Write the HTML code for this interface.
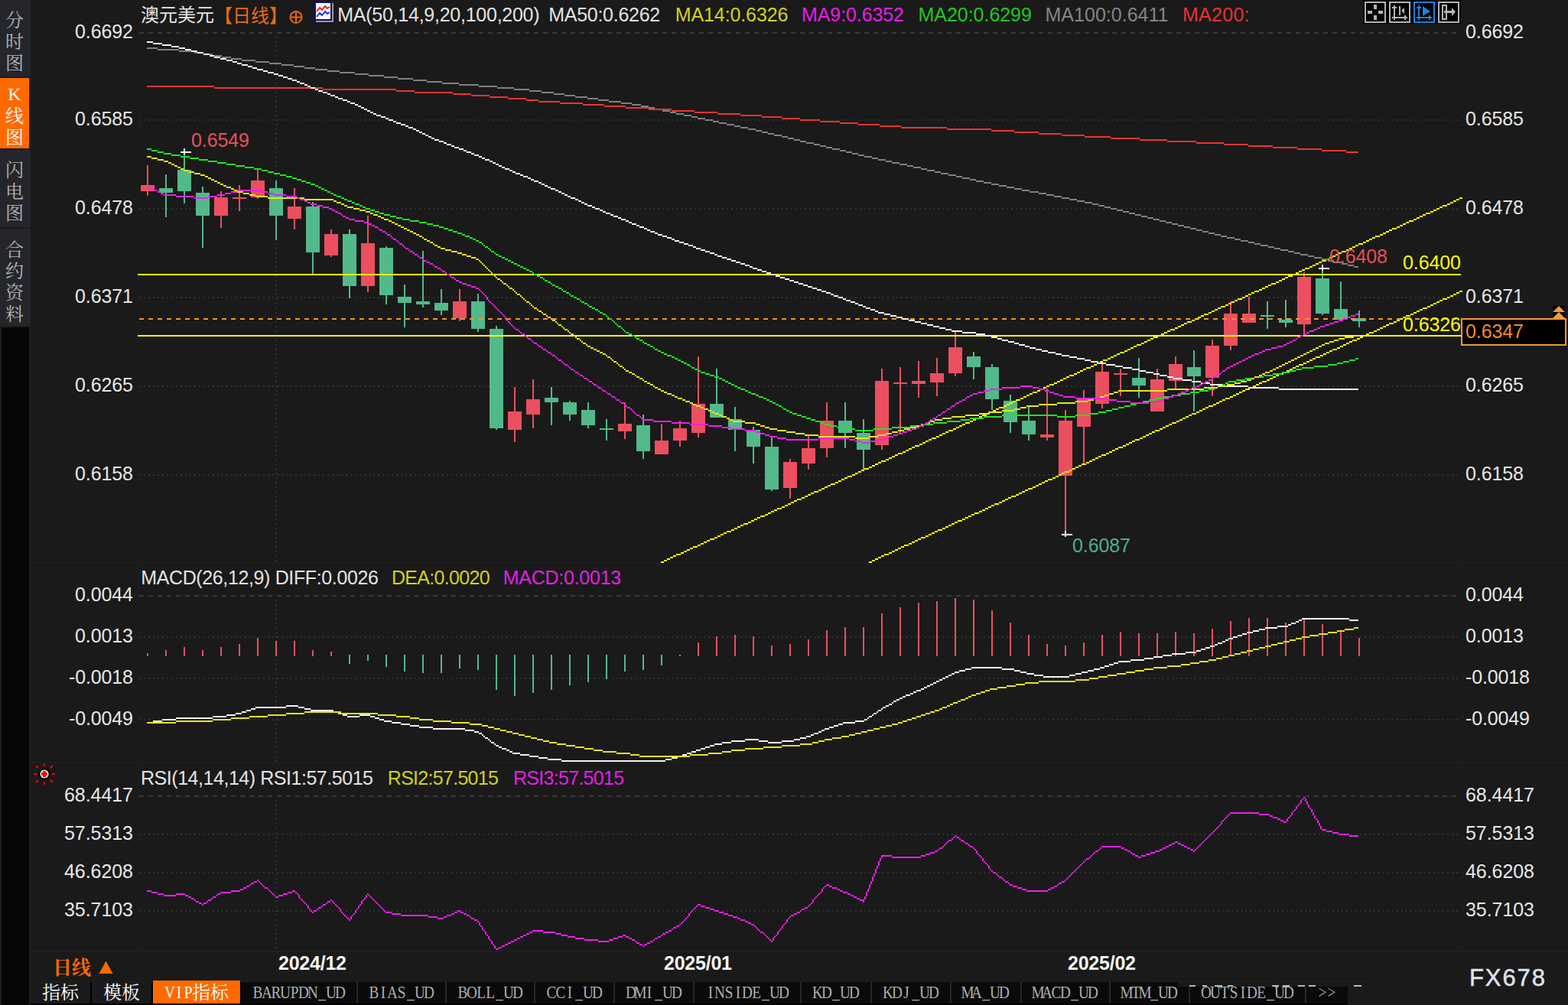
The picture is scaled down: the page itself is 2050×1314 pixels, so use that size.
<!DOCTYPE html>
<html><head><meta charset="utf-8"><title>AUDUSD</title>
<style>html,body{margin:0;padding:0;background:#1a1a1a;}body{width:2050px;height:1314px;overflow:hidden;}
svg{display:block;font-family:"Liberation Sans",sans-serif;}</style></head>
<body><svg width="2050" height="1314" viewBox="0 0 2050 1314">
<rect width="2050" height="1314" fill="#1a1a1a"/>
<rect x="0" y="0" width="40" height="426" fill="#24262c"/>
<rect x="0" y="426" width="40" height="888" fill="#1e1e1e"/>
<rect x="2" y="428" width="36" height="886" fill="#060606"/>
<rect x="0" y="102" width="38" height="92" fill="#ff6a00"/>
<rect x="0" y="100" width="40" height="2" fill="#1b1b1d"/>
<rect x="0" y="194" width="40" height="2" fill="#1b1b1d"/>
<rect x="0" y="297" width="40" height="2" fill="#1b1b1d"/>
<text x="7" y="35.12" fill="#b4b4b4" font-size="24" font-family="'Liberation Serif','Noto Serif CJK SC',serif">分</text>
<text x="7" y="63.12" fill="#b4b4b4" font-size="24" font-family="'Liberation Serif','Noto Serif CJK SC',serif">时</text>
<text x="7" y="91.12" fill="#b4b4b4" font-size="24" font-family="'Liberation Serif','Noto Serif CJK SC',serif">图</text>
<text x="7" y="160.12" fill="#ffffff" font-size="24" font-family="'Liberation Serif','Noto Serif CJK SC',serif">线</text>
<text x="7" y="188.12" fill="#ffffff" font-size="24" font-family="'Liberation Serif','Noto Serif CJK SC',serif">图</text>
<text x="7" y="231.12" fill="#b4b4b4" font-size="24" font-family="'Liberation Serif','Noto Serif CJK SC',serif">闪</text>
<text x="7" y="259.12" fill="#b4b4b4" font-size="24" font-family="'Liberation Serif','Noto Serif CJK SC',serif">电</text>
<text x="7" y="287.12" fill="#b4b4b4" font-size="24" font-family="'Liberation Serif','Noto Serif CJK SC',serif">图</text>
<text x="7" y="335.12" fill="#b4b4b4" font-size="24" font-family="'Liberation Serif','Noto Serif CJK SC',serif">合</text>
<text x="7" y="363.12" fill="#b4b4b4" font-size="24" font-family="'Liberation Serif','Noto Serif CJK SC',serif">约</text>
<text x="7" y="391.12" fill="#b4b4b4" font-size="24" font-family="'Liberation Serif','Noto Serif CJK SC',serif">资</text>
<text x="7" y="419.12" fill="#b4b4b4" font-size="24" font-family="'Liberation Serif','Noto Serif CJK SC',serif">料</text>
<text x="19" y="131" fill="#ffffff" font-size="24" text-anchor="middle" font-family="Liberation Serif">K</text>
<rect x="180" y="36" width="2" height="1208" fill="#1d1d1d"/>
<line x1="1912" y1="36" x2="1912" y2="1244" stroke="#202020" stroke-width="2" stroke-dasharray="2 4"/>
<rect x="40" y="735" width="2010" height="2" fill="#1e1e1e"/>
<rect x="40" y="996" width="2010" height="2" fill="#1e1e1e"/>
<rect x="40" y="1243" width="2010" height="2" fill="#1e1e1e"/>
<rect x="40" y="1283" width="2010" height="1" fill="#1e1e1e"/>
<line x1="182" y1="43" x2="1908" y2="43" stroke="#3a3a3a" stroke-width="2" stroke-dasharray="6 6"/>
<line x1="182" y1="157" x2="1908" y2="157" stroke="#303030" stroke-width="2" stroke-dasharray="2 4"/>
<line x1="182" y1="273" x2="1908" y2="273" stroke="#303030" stroke-width="2" stroke-dasharray="2 4"/>
<line x1="182" y1="389" x2="1908" y2="389" stroke="#303030" stroke-width="2" stroke-dasharray="2 4"/>
<line x1="182" y1="505" x2="1908" y2="505" stroke="#303030" stroke-width="2" stroke-dasharray="2 4"/>
<line x1="182" y1="621" x2="1908" y2="621" stroke="#303030" stroke-width="2" stroke-dasharray="2 4"/>
<line x1="182" y1="779" x2="1908" y2="779" stroke="#3a3a3a" stroke-width="2" stroke-dasharray="6 6"/>
<line x1="182" y1="833" x2="1908" y2="833" stroke="#303030" stroke-width="2" stroke-dasharray="2 4"/>
<line x1="182" y1="887" x2="1908" y2="887" stroke="#303030" stroke-width="2" stroke-dasharray="2 4"/>
<line x1="182" y1="941" x2="1908" y2="941" stroke="#303030" stroke-width="2" stroke-dasharray="2 4"/>
<line x1="182" y1="1041" x2="1908" y2="1041" stroke="#3a3a3a" stroke-width="2" stroke-dasharray="6 6"/>
<line x1="182" y1="1091" x2="1908" y2="1091" stroke="#303030" stroke-width="2" stroke-dasharray="2 4"/>
<line x1="182" y1="1141" x2="1908" y2="1141" stroke="#303030" stroke-width="2" stroke-dasharray="2 4"/>
<line x1="182" y1="1191" x2="1908" y2="1191" stroke="#303030" stroke-width="2" stroke-dasharray="2 4"/>
<line x1="361" y1="48" x2="361" y2="734" stroke="#303030" stroke-width="2" stroke-dasharray="2 4"/>
<line x1="361" y1="784" x2="361" y2="996" stroke="#303030" stroke-width="2" stroke-dasharray="2 4"/>
<line x1="361" y1="1046" x2="361" y2="1242" stroke="#303030" stroke-width="2" stroke-dasharray="2 4"/>
<g shape-rendering="crispEdges">
<rect x="192" y="216" width="2" height="40" fill="#ec4f5f"/>
<rect x="184" y="242" width="18" height="8" fill="#ec4f5f"/>
<rect x="216" y="228" width="2" height="56" fill="#52b98a"/>
<rect x="208" y="246" width="18" height="6" fill="#52b98a"/>
<rect x="240" y="200" width="2" height="66" fill="#52b98a"/>
<rect x="232" y="222" width="18" height="28" fill="#52b98a"/>
<rect x="264" y="244" width="2" height="80" fill="#52b98a"/>
<rect x="256" y="252" width="18" height="30" fill="#52b98a"/>
<rect x="288" y="250" width="2" height="48" fill="#ec4f5f"/>
<rect x="280" y="258" width="18" height="24" fill="#ec4f5f"/>
<rect x="312" y="242" width="2" height="34" fill="#ec4f5f"/>
<rect x="304" y="258" width="18" height="2" fill="#ec4f5f"/>
<rect x="336" y="222" width="2" height="38" fill="#ec4f5f"/>
<rect x="328" y="236" width="18" height="22" fill="#ec4f5f"/>
<rect x="360" y="236" width="2" height="78" fill="#52b98a"/>
<rect x="352" y="246" width="18" height="36" fill="#52b98a"/>
<rect x="384" y="246" width="2" height="54" fill="#ec4f5f"/>
<rect x="376" y="270" width="18" height="16" fill="#ec4f5f"/>
<rect x="408" y="264" width="2" height="94" fill="#52b98a"/>
<rect x="400" y="270" width="18" height="60" fill="#52b98a"/>
<rect x="432" y="300" width="2" height="36" fill="#ec4f5f"/>
<rect x="424" y="306" width="18" height="28" fill="#ec4f5f"/>
<rect x="456" y="300" width="2" height="90" fill="#52b98a"/>
<rect x="448" y="306" width="18" height="68" fill="#52b98a"/>
<rect x="480" y="282" width="2" height="100" fill="#ec4f5f"/>
<rect x="472" y="318" width="18" height="56" fill="#ec4f5f"/>
<rect x="504" y="322" width="2" height="76" fill="#52b98a"/>
<rect x="496" y="324" width="18" height="62" fill="#52b98a"/>
<rect x="528" y="372" width="2" height="56" fill="#52b98a"/>
<rect x="520" y="388" width="18" height="8" fill="#52b98a"/>
<rect x="552" y="328" width="2" height="74" fill="#52b98a"/>
<rect x="544" y="394" width="18" height="4" fill="#52b98a"/>
<rect x="576" y="378" width="2" height="34" fill="#52b98a"/>
<rect x="568" y="396" width="18" height="10" fill="#52b98a"/>
<rect x="600" y="378" width="2" height="42" fill="#ec4f5f"/>
<rect x="592" y="394" width="18" height="22" fill="#ec4f5f"/>
<rect x="624" y="384" width="2" height="50" fill="#52b98a"/>
<rect x="616" y="394" width="18" height="36" fill="#52b98a"/>
<rect x="648" y="426" width="2" height="136" fill="#52b98a"/>
<rect x="640" y="430" width="18" height="130" fill="#52b98a"/>
<rect x="672" y="506" width="2" height="72" fill="#ec4f5f"/>
<rect x="664" y="538" width="18" height="24" fill="#ec4f5f"/>
<rect x="696" y="496" width="2" height="64" fill="#ec4f5f"/>
<rect x="688" y="522" width="18" height="20" fill="#ec4f5f"/>
<rect x="720" y="506" width="2" height="50" fill="#52b98a"/>
<rect x="712" y="520" width="18" height="6" fill="#52b98a"/>
<rect x="744" y="524" width="2" height="26" fill="#52b98a"/>
<rect x="736" y="526" width="18" height="16" fill="#52b98a"/>
<rect x="768" y="526" width="2" height="34" fill="#52b98a"/>
<rect x="760" y="536" width="18" height="20" fill="#52b98a"/>
<rect x="792" y="548" width="2" height="28" fill="#52b98a"/>
<rect x="784" y="560" width="18" height="2" fill="#52b98a"/>
<rect x="816" y="526" width="2" height="48" fill="#ec4f5f"/>
<rect x="808" y="554" width="18" height="10" fill="#ec4f5f"/>
<rect x="840" y="542" width="2" height="58" fill="#52b98a"/>
<rect x="832" y="556" width="18" height="34" fill="#52b98a"/>
<rect x="864" y="554" width="2" height="40" fill="#ec4f5f"/>
<rect x="856" y="576" width="18" height="18" fill="#ec4f5f"/>
<rect x="888" y="550" width="2" height="34" fill="#ec4f5f"/>
<rect x="880" y="560" width="18" height="16" fill="#ec4f5f"/>
<rect x="912" y="466" width="2" height="106" fill="#ec4f5f"/>
<rect x="904" y="528" width="18" height="38" fill="#ec4f5f"/>
<rect x="936" y="482" width="2" height="64" fill="#52b98a"/>
<rect x="928" y="528" width="18" height="18" fill="#52b98a"/>
<rect x="960" y="532" width="2" height="58" fill="#52b98a"/>
<rect x="952" y="548" width="18" height="14" fill="#52b98a"/>
<rect x="984" y="558" width="2" height="48" fill="#52b98a"/>
<rect x="976" y="562" width="18" height="22" fill="#52b98a"/>
<rect x="1008" y="572" width="2" height="70" fill="#52b98a"/>
<rect x="1000" y="584" width="18" height="56" fill="#52b98a"/>
<rect x="1032" y="600" width="2" height="52" fill="#ec4f5f"/>
<rect x="1024" y="604" width="18" height="34" fill="#ec4f5f"/>
<rect x="1056" y="570" width="2" height="44" fill="#ec4f5f"/>
<rect x="1048" y="586" width="18" height="20" fill="#ec4f5f"/>
<rect x="1080" y="526" width="2" height="72" fill="#ec4f5f"/>
<rect x="1072" y="550" width="18" height="36" fill="#ec4f5f"/>
<rect x="1104" y="526" width="2" height="60" fill="#52b98a"/>
<rect x="1096" y="550" width="18" height="16" fill="#52b98a"/>
<rect x="1128" y="548" width="2" height="66" fill="#52b98a"/>
<rect x="1120" y="566" width="18" height="22" fill="#52b98a"/>
<rect x="1152" y="482" width="2" height="106" fill="#ec4f5f"/>
<rect x="1144" y="498" width="18" height="84" fill="#ec4f5f"/>
<rect x="1176" y="480" width="2" height="86" fill="#ec4f5f"/>
<rect x="1168" y="500" width="18" height="2" fill="#ec4f5f"/>
<rect x="1200" y="472" width="2" height="48" fill="#ec4f5f"/>
<rect x="1192" y="498" width="18" height="4" fill="#ec4f5f"/>
<rect x="1224" y="468" width="2" height="50" fill="#ec4f5f"/>
<rect x="1216" y="488" width="18" height="12" fill="#ec4f5f"/>
<rect x="1248" y="434" width="2" height="58" fill="#ec4f5f"/>
<rect x="1240" y="454" width="18" height="34" fill="#ec4f5f"/>
<rect x="1272" y="460" width="2" height="36" fill="#52b98a"/>
<rect x="1264" y="466" width="18" height="14" fill="#52b98a"/>
<rect x="1296" y="476" width="2" height="60" fill="#52b98a"/>
<rect x="1288" y="480" width="18" height="42" fill="#52b98a"/>
<rect x="1320" y="516" width="2" height="50" fill="#52b98a"/>
<rect x="1312" y="524" width="18" height="28" fill="#52b98a"/>
<rect x="1344" y="532" width="2" height="44" fill="#52b98a"/>
<rect x="1336" y="550" width="18" height="18" fill="#52b98a"/>
<rect x="1368" y="508" width="2" height="68" fill="#ec4f5f"/>
<rect x="1360" y="568" width="18" height="4" fill="#ec4f5f"/>
<rect x="1392" y="536" width="2" height="164" fill="#ec4f5f"/>
<rect x="1384" y="550" width="18" height="72" fill="#ec4f5f"/>
<rect x="1416" y="510" width="2" height="96" fill="#ec4f5f"/>
<rect x="1408" y="522" width="18" height="36" fill="#ec4f5f"/>
<rect x="1440" y="472" width="2" height="62" fill="#ec4f5f"/>
<rect x="1432" y="486" width="18" height="42" fill="#ec4f5f"/>
<rect x="1464" y="482" width="2" height="36" fill="#ec4f5f"/>
<rect x="1456" y="488" width="18" height="2" fill="#ec4f5f"/>
<rect x="1488" y="468" width="2" height="52" fill="#52b98a"/>
<rect x="1480" y="494" width="18" height="10" fill="#52b98a"/>
<rect x="1512" y="482" width="2" height="56" fill="#ec4f5f"/>
<rect x="1504" y="496" width="18" height="42" fill="#ec4f5f"/>
<rect x="1536" y="466" width="2" height="42" fill="#ec4f5f"/>
<rect x="1528" y="476" width="18" height="22" fill="#ec4f5f"/>
<rect x="1560" y="458" width="2" height="80" fill="#52b98a"/>
<rect x="1552" y="480" width="18" height="12" fill="#52b98a"/>
<rect x="1584" y="444" width="2" height="74" fill="#ec4f5f"/>
<rect x="1576" y="452" width="18" height="42" fill="#ec4f5f"/>
<rect x="1608" y="394" width="2" height="64" fill="#ec4f5f"/>
<rect x="1600" y="410" width="18" height="42" fill="#ec4f5f"/>
<rect x="1632" y="388" width="2" height="34" fill="#ec4f5f"/>
<rect x="1624" y="410" width="18" height="12" fill="#ec4f5f"/>
<rect x="1656" y="394" width="2" height="36" fill="#52b98a"/>
<rect x="1648" y="412" width="18" height="2" fill="#52b98a"/>
<rect x="1680" y="392" width="2" height="36" fill="#52b98a"/>
<rect x="1672" y="418" width="18" height="4" fill="#52b98a"/>
<rect x="1704" y="356" width="2" height="82" fill="#ec4f5f"/>
<rect x="1696" y="362" width="18" height="62" fill="#ec4f5f"/>
<rect x="1728" y="350" width="2" height="62" fill="#52b98a"/>
<rect x="1720" y="364" width="18" height="46" fill="#52b98a"/>
<rect x="1752" y="368" width="2" height="52" fill="#52b98a"/>
<rect x="1744" y="404" width="18" height="14" fill="#52b98a"/>
<rect x="1776" y="406" width="2" height="22" fill="#52b98a"/>
<rect x="1768" y="416" width="18" height="4" fill="#52b98a"/>
<line x1="182" y1="417" x2="1910" y2="417" stroke="#f09632" stroke-width="2" stroke-dasharray="6 6"/>
<rect x="180" y="358" width="1730" height="2" fill="#ffff00"/>
<rect x="180" y="438" width="1730" height="2" fill="#ffff00"/>
<path d="M1908 259h4M1904 261h4M1900 263h4M1896 265h4M1892 267h4M1886 269h6M1882 271h4M1878 273h4M1874 275h4M1870 277h4M1864 279h6M1860 281h4M1856 283h4M1852 285h4M1848 287h4M1842 289h6M1838 291h4M1834 293h4M1830 295h4M1826 297h4M1820 299h6M1816 301h4M1812 303h4M1808 305h4M1804 307h4M1798 309h6M1794 311h4M1790 313h4M1786 315h4M1782 317h4M1776 319h6M1772 321h4M1768 323h4M1764 325h4M1760 327h4M1754 329h6M1750 331h4M1746 333h4M1742 335h4M1738 337h4M1734 339h4M1728 341h6M1724 343h4M1720 345h4M1716 347h4M1712 349h4M1706 351h6M1702 353h4M1698 355h4M1694 357h4M1690 359h4M1684 361h6M1680 363h4M1676 365h4M1672 367h4M1668 369h4M1662 371h6M1658 373h4M1654 375h4M1650 377h4M1646 379h4M1640 381h6M1636 383h4M1632 385h4M1628 387h4M1624 389h4M1618 391h6M1614 393h4M1610 395h4M1606 397h4M1602 399h4M1596 401h6M1592 403h4M1588 405h4M1584 407h4M1580 409h4M1574 411h6M1570 413h4M1566 415h4M1562 417h4M1558 419h4M1552 421h6M1548 423h4M1544 425h4M1540 427h4M1536 429h4M1530 431h6M1526 433h4M1522 435h4M1518 437h4M1514 439h4M1508 441h6M1504 443h4M1500 445h4M1496 447h4M1492 449h4M1486 451h6M1482 453h4M1478 455h4M1474 457h4M1470 459h4M1464 461h6M1460 463h4M1456 465h4M1452 467h4M1448 469h4M1442 471h6M1438 473h4M1434 475h4M1430 477h4M1426 479h4M1420 481h6M1416 483h4M1412 485h4M1408 487h4M1404 489h4M1398 491h6M1394 493h4M1390 495h4M1386 497h4M1382 499h4M1378 501h4M1372 503h6M1368 505h4M1364 507h4M1360 509h4M1356 511h4M1350 513h6M1346 515h4M1342 517h4M1338 519h4M1334 521h4M1328 523h6M1324 525h4M1320 527h4M1316 529h4M1312 531h4M1306 533h6M1302 535h4M1298 537h4M1294 539h4M1290 541h4M1284 543h6M1280 545h4M1276 547h4M1272 549h4M1268 551h4M1262 553h6M1258 555h4M1254 557h4M1250 559h4M1246 561h4M1240 563h6M1236 565h4M1232 567h4M1228 569h4M1224 571h4M1218 573h6M1214 575h4M1210 577h4M1206 579h4M1202 581h4M1196 583h6M1192 585h4M1188 587h4M1184 589h4M1180 591h4M1174 593h6M1170 595h4M1166 597h4M1162 599h4M1158 601h4M1152 603h6M1148 605h4M1144 607h4M1140 609h4M1136 611h4M1130 613h6M1126 615h4M1122 617h4M1118 619h4M1114 621h4M1108 623h6M1104 625h4M1100 627h4M1096 629h4M1092 631h4M1086 633h6M1082 635h4M1078 637h4M1074 639h4M1070 641h4M1064 643h6M1060 645h4M1056 647h4M1052 649h4M1048 651h4M1042 653h6M1038 655h4M1034 657h4M1030 659h4M1026 661h4M1022 663h4M1016 665h6M1012 667h4M1008 669h4M1004 671h4M1000 673h4M994 675h6M990 677h4M986 679h4M982 681h4M978 683h4M972 685h6M968 687h4M964 689h4M960 691h4M956 693h4M950 695h6M946 697h4M942 699h4M938 701h4M934 703h4M928 705h6M924 707h4M920 709h4M916 711h4M912 713h4M906 715h6M902 717h4M898 719h4M894 721h4M890 723h4M884 725h6M880 727h4M876 729h4M872 731h4M868 733h4M864 735h4" fill="none" stroke="#ffff00" stroke-width="2"/>
<path d="M1908 381h4M1904 383h4M1900 385h4M1896 387h4M1892 389h4M1886 391h6M1882 393h4M1878 395h4M1874 397h4M1870 399h4M1866 401h4M1860 403h6M1856 405h4M1852 407h4M1848 409h4M1844 411h4M1838 413h6M1834 415h4M1830 417h4M1826 419h4M1822 421h4M1816 423h6M1812 425h4M1808 427h4M1804 429h4M1800 431h4M1796 433h4M1790 435h6M1786 437h4M1782 439h4M1778 441h4M1774 443h4M1768 445h6M1764 447h4M1760 449h4M1756 451h4M1752 453h4M1748 455h4M1742 457h6M1738 459h4M1734 461h4M1730 463h4M1726 465h4M1720 467h6M1716 469h4M1712 471h4M1708 473h4M1704 475h4M1698 477h6M1694 479h4M1690 481h4M1686 483h4M1682 485h4M1678 487h4M1672 489h6M1668 491h4M1664 493h4M1660 495h4M1656 497h4M1650 499h6M1646 501h4M1642 503h4M1638 505h4M1634 507h4M1628 509h6M1624 511h4M1620 513h4M1616 515h4M1612 517h4M1608 519h4M1602 521h6M1598 523h4M1594 525h4M1590 527h4M1586 529h4M1580 531h6M1576 533h4M1572 535h4M1568 537h4M1564 539h4M1558 541h6M1554 543h4M1550 545h4M1546 547h4M1542 549h4M1538 551h4M1532 553h6M1528 555h4M1524 557h4M1520 559h4M1516 561h4M1510 563h6M1506 565h4M1502 567h4M1498 569h4M1494 571h4M1490 573h4M1484 575h6M1480 577h4M1476 579h4M1472 581h4M1468 583h4M1462 585h6M1458 587h4M1454 589h4M1450 591h4M1446 593h4M1440 595h6M1436 597h4M1432 599h4M1428 601h4M1424 603h4M1420 605h4M1414 607h6M1410 609h4M1406 611h4M1402 613h4M1398 615h4M1392 617h6M1388 619h4M1384 621h4M1380 623h4M1376 625h4M1370 627h6M1366 629h4M1362 631h4M1358 633h4M1354 635h4M1350 637h4M1344 639h6M1340 641h4M1336 643h4M1332 645h4M1328 647h4M1322 649h6M1318 651h4M1314 653h4M1310 655h4M1306 657h4M1300 659h6M1296 661h4M1292 663h4M1288 665h4M1284 667h4M1280 669h4M1274 671h6M1270 673h4M1266 675h4M1262 677h4M1258 679h4M1252 681h6M1248 683h4M1244 685h4M1240 687h4M1236 689h4M1232 691h4M1226 693h6M1222 695h4M1218 697h4M1214 699h4M1210 701h4M1204 703h6M1200 705h4M1196 707h4M1192 709h4M1188 711h4M1182 713h6M1178 715h4M1174 717h4M1170 719h4M1166 721h4M1162 723h4M1156 725h6M1152 727h4M1148 729h4M1144 731h4M1140 733h4M1136 735h4" fill="none" stroke="#ffff00" stroke-width="2"/>
<path d="M192 63h14M206 65h28M234 67h20M254 69h12M266 71h12M278 73h12M290 75h12M302 77h14M316 79h18M334 81h18M352 83h16M368 85h16M384 87h14M398 89h14M412 91h16M428 93h16M444 95h20M464 97h18M482 99h20M502 101h18M520 103h20M540 105h18M558 107h20M578 109h22M600 111h26M626 113h24M650 115h22M672 117h20M692 119h16M708 121h16M724 123h14M738 125h14M752 127h16M768 129h14M782 131h14M796 133h16M812 135h14M826 137h12M838 139h10M848 141h8M856 143h10M866 145h10M876 147h8M884 149h10M894 151h10M904 153h8M912 155h10M922 157h10M932 159h8M940 161h10M950 163h10M960 165h8M968 167h10M978 169h10M988 171h8M996 173h8M1004 175h8M1012 177h10M1022 179h8M1030 181h8M1038 183h8M1046 185h8M1054 187h10M1064 189h8M1072 191h8M1080 193h8M1088 195h10M1098 197h8M1106 199h8M1114 201h8M1122 203h8M1130 205h10M1140 207h8M1148 209h10M1158 211h8M1166 213h10M1176 215h10M1186 217h8M1194 219h10M1204 221h8M1212 223h10M1222 225h8M1230 227h10M1240 229h10M1250 231h8M1258 233h10M1268 235h8M1276 237h10M1286 239h10M1296 241h10M1306 243h10M1316 245h10M1326 247h10M1336 249h10M1346 251h12M1358 253h10M1368 255h10M1378 257h10M1388 259h10M1398 261h10M1408 263h10M1418 265h10M1428 267h8M1436 269h8M1444 271h8M1452 273h8M1460 275h8M1468 277h8M1476 279h8M1484 281h8M1492 283h8M1500 285h8M1508 287h8M1516 289h8M1524 291h8M1532 293h8M1540 295h8M1548 297h8M1556 299h8M1564 301h8M1572 303h8M1580 305h8M1588 307h8M1596 309h8M1604 311h10M1614 313h8M1622 315h10M1632 317h8M1640 319h8M1648 321h10M1658 323h8M1666 325h8M1674 327h10M1684 329h8M1692 331h8M1700 333h10M1710 335h8M1718 337h10M1728 339h8M1736 341h8M1744 343h10M1754 345h8M1762 347h8M1770 349h6" fill="none" stroke="#808080" stroke-width="2"/>
<path d="M192 113h88M280 115h142M422 117h96M518 119h24M542 121h50M592 123h24M616 125h24M640 127h24M664 129h24M688 131h16M704 133h28M732 135h30M762 137h28M790 139h28M818 141h30M848 143h30M878 145h30M908 147h30M938 149h30M968 151h28M996 153h26M1022 155h24M1046 157h26M1072 159h26M1098 161h24M1122 163h28M1150 165h28M1178 167h60M1238 169h58M1296 171h30M1326 173h32M1358 175h30M1388 177h30M1418 179h34M1452 181h38M1490 183h36M1526 185h38M1564 187h36M1600 189h32M1632 191h32M1664 193h32M1696 195h32M1728 197h32M1760 199h16" fill="none" stroke="#f03232" stroke-width="2"/>
<path d="M192 55h8M200 57h12M212 59h12M224 61h10M234 63h8M242 65h8M250 67h8M258 69h8M266 71h8M274 73h6M280 75h8M288 77h8M296 79h8M304 81h6M310 83h6M316 85h8M324 87h6M330 89h6M336 91h8M344 93h6M350 95h8M358 97h6M364 99h6M370 101h6M376 103h6M382 105h6M388 107h4M392 109h6M398 111h4M402 113h4M406 115h6M412 117h4M416 119h6M422 121h6M428 123h4M432 125h6M438 127h4M442 129h6M448 131h6M454 133h4M458 135h6M464 137h4M468 139h4M472 141h4M476 143h4M480 145h4M484 147h4M488 149h4M492 151h6M498 153h6M504 155h4M508 157h6M514 159h4M518 161h6M524 163h6M530 165h4M534 167h6M540 169h4M544 171h4M548 173h4M552 175h4M556 177h4M560 179h4M564 181h4M568 183h6M574 185h6M580 187h4M584 189h6M590 191h4M594 193h6M600 195h6M606 197h4M610 199h6M616 201h4M620 203h6M626 205h4M630 207h4M634 209h6M640 211h4M644 213h4M648 215h4M652 217h4M656 219h4M660 221h6M666 223h4M670 225h4M674 227h6M680 229h4M684 231h6M690 233h4M694 235h4M698 237h6M704 239h4M708 241h4M712 243h4M716 245h4M720 247h6M726 249h4M730 251h4M734 253h4M738 255h4M742 257h4M746 259h6M752 261h4M756 263h4M760 265h4M764 267h4M768 269h6M774 271h4M778 273h6M784 275h4M788 277h4M792 279h6M798 281h4M802 283h6M808 285h4M812 287h6M818 289h4M822 291h4M826 293h6M832 295h4M836 297h6M842 299h4M846 301h4M850 303h6M856 305h4M860 307h6M866 309h6M872 311h6M878 313h4M882 315h6M888 317h6M894 319h6M900 321h6M906 323h4M910 325h6M916 327h6M922 329h6M928 331h6M934 333h4M938 335h6M944 337h6M950 339h6M956 341h6M962 343h6M968 345h6M974 347h6M980 349h4M984 351h6M990 353h6M996 355h6M1002 357h6M1008 359h6M1014 361h6M1020 363h6M1026 365h6M1032 367h6M1038 369h6M1044 371h6M1050 373h6M1056 375h6M1062 377h6M1068 379h6M1074 381h6M1080 383h6M1086 385h4M1090 387h6M1096 389h6M1102 391h4M1106 393h6M1112 395h6M1118 397h4M1122 399h6M1128 401h4M1132 403h6M1138 405h6M1144 407h4M1148 409h8M1156 411h8M1164 413h8M1172 415h8M1180 417h8M1188 419h8M1196 421h8M1204 423h8M1212 425h8M1220 427h8M1228 429h8M1236 431h8M1244 433h14M1258 435h18M1276 437h12M1288 439h8M1296 441h8M1304 443h6M1310 445h8M1318 447h8M1326 449h6M1332 451h8M1340 453h6M1346 455h8M1354 457h8M1362 459h8M1370 461h10M1380 463h8M1388 465h10M1398 467h10M1408 469h10M1418 471h8M1426 473h10M1436 475h10M1446 477h12M1458 479h10M1468 481h12M1480 483h10M1490 485h8M1498 487h10M1508 489h8M1516 491h10M1526 493h8M1534 495h12M1546 497h12M1558 499h12M1570 501h12M1582 503h20M1602 505h30M1632 507h40M1672 509h104" fill="none" stroke="#f4f4f4" stroke-width="2"/>
<path d="M192 195h6M198 197h8M206 199h8M214 201h10M224 203h12M236 205h12M248 207h12M260 209h12M272 211h12M284 213h12M296 215h12M308 217h12M320 219h12M332 221h10M342 223h8M350 225h8M358 227h8M366 229h8M374 231h8M382 233h6M388 235h6M394 237h6M400 239h6M406 241h6M412 243h4M416 245h4M420 247h4M424 249h4M428 251h4M432 253h4M436 255h4M440 257h6M446 259h4M450 261h4M454 263h6M460 265h4M464 267h6M470 269h4M474 271h4M478 273h6M484 275h6M490 277h6M496 279h6M502 281h8M510 283h8M518 285h8M526 287h10M536 289h12M548 291h10M558 293h8M566 295h8M574 297h6M580 299h6M586 301h6M592 303h6M598 305h6M604 307h4M608 309h6M614 311h4M618 313h4M622 315h4M626 317h4M630 319h2M632 321h2M634 323h4M638 325h2M640 327h2M642 329h4M646 331h2M648 333h4M652 335h4M656 337h4M660 339h4M664 341h4M668 343h4M672 345h4M676 347h4M680 349h4M684 351h4M688 353h4M692 355h4M696 357h2M698 359h4M702 361h4M706 363h4M710 365h2M712 367h4M716 369h4M720 371h2M722 373h4M726 375h4M730 377h4M734 379h2M736 381h4M740 383h4M744 385h2M746 387h4M750 389h4M754 391h4M758 393h2M760 395h4M764 397h4M768 399h2M770 401h4M774 403h4M778 405h4M782 407h2M784 409h4M788 411h4M792 413h2M794 415h2M796 417h4M800 419h2M802 421h2M804 423h2M806 425h2M808 427h4M812 429h2M814 431h2M816 433h2M818 435h4M822 437h4M826 439h4M830 441h2M832 443h4M836 445h4M840 447h2M842 449h4M846 451h4M850 453h4M854 455h2M856 457h4M860 459h4M864 461h4M868 463h4M872 465h6M878 467h4M882 469h4M1772 469h4M886 471h4M1764 471h8M890 473h4M1756 473h8M894 475h4M1748 475h8M898 477h4M1736 477h12M902 479h2M1718 479h18M904 481h4M1702 481h16M908 483h4M1694 483h8M912 485h4M1686 485h8M916 487h6M1676 487h10M922 489h6M1664 489h12M928 491h6M1652 491h12M934 493h6M1640 493h12M940 495h4M1628 495h12M944 497h4M1616 497h12M948 499h4M1606 499h10M952 501h4M1602 501h4M956 503h4M1598 503h4M960 505h4M1592 505h6M964 507h4M1588 507h4M968 509h6M1580 509h8M974 511h4M1568 511h12M978 513h4M1556 513h12M982 515h6M1544 515h12M988 517h4M1532 517h12M992 519h6M1520 519h12M998 521h4M1510 521h10M1002 523h4M1502 523h8M1006 525h4M1494 525h8M1010 527h4M1486 527h8M1014 529h4M1478 529h8M1018 531h4M1470 531h8M1022 533h2M1462 533h8M1024 535h4M1454 535h8M1028 537h4M1446 537h8M1032 539h4M1436 539h10M1036 541h6M1424 541h12M1042 543h6M1310 543h72M1406 543h18M1048 545h6M1286 545h24M1382 545h24M1054 547h6M1268 547h18M1060 549h6M1256 549h12M1066 551h6M1238 551h18M1072 553h6M1220 553h18M1078 555h8M1208 555h12M1086 557h8M1190 557h18M1094 559h8M1166 559h24M1102 561h16M1142 561h24M1118 563h24" fill="none" stroke="#1ee61e" stroke-width="2"/>
<path d="M192 205h6M198 207h8M206 209h8M214 211h6M220 213h4M224 215h4M228 217h4M232 219h4M236 221h4M240 223h6M246 225h8M254 227h8M262 229h6M268 231h4M272 233h4M276 235h4M280 237h4M284 239h4M288 241h4M292 243h4M296 245h6M302 247h4M306 249h4M310 251h8M318 253h8M326 255h8M334 257h16M350 259h48M398 261h38M436 263h4M440 265h6M446 267h4M450 269h4M454 271h8M462 273h8M470 275h8M478 277h6M484 279h4M488 281h6M494 283h4M498 285h4M502 287h6M508 289h4M512 291h4M516 293h4M520 295h4M524 297h4M528 299h4M532 301h4M536 303h4M540 305h4M544 307h4M548 309h4M552 311h2M554 313h4M558 315h4M562 317h4M566 319h2M568 321h4M572 323h4M576 325h6M582 327h8M590 329h8M598 331h6M604 333h6M610 335h6M616 337h6M622 339h4M626 341h2M628 343h2M630 345h2M632 347h2M634 349h2M636 351h2M638 353h2M640 355h2M642 357h2M644 359h2M646 361h2M648 363h2M650 365h4M654 367h2M656 369h2M658 371h4M662 373h2M664 375h2M666 377h4M670 379h2M672 381h2M674 383h2M676 385h4M680 387h2M682 389h2M684 391h2M686 393h2M688 395h4M692 397h2M694 399h2M696 401h2M698 403h4M702 405h2M704 407h4M708 409h2M710 411h4M714 413h2M716 415h4M720 417h2M722 419h4M726 421h2M728 423h2M730 425h4M734 427h2M736 429h2M738 431h4M742 433h2M744 435h2M746 437h4M750 439h2M1770 439h6M752 441h2M1758 441h12M754 443h4M1750 443h8M758 445h2M1744 445h6M760 447h2M1738 447h6M762 449h4M1732 449h6M766 451h2M1728 451h4M768 453h4M1724 453h4M772 455h4M1720 455h4M776 457h4M1716 457h4M780 459h4M1712 459h4M784 461h4M1708 461h4M788 463h4M1704 463h4M792 465h2M1700 465h4M794 467h4M1696 467h4M798 469h2M1692 469h4M800 471h2M1688 471h4M802 473h4M1684 473h4M806 475h2M1680 475h4M808 477h2M1676 477h4M810 479h4M1672 479h4M814 481h2M1668 481h4M816 483h2M1664 483h4M818 485h4M1660 485h4M822 487h4M1654 487h6M826 489h4M1650 489h4M830 491h2M1646 491h4M832 493h4M1640 493h6M836 495h4M1636 495h4M840 497h2M1630 497h6M842 499h4M1622 499h8M846 501h4M1614 501h8M850 503h4M1604 503h10M854 505h2M1592 505h12M856 507h4M1574 507h18M860 509h4M1526 509h48M864 511h4M1462 511h64M868 513h4M1456 513h6M872 515h6M1450 515h6M878 517h4M1444 517h6M882 519h4M1438 519h6M886 521h6M1430 521h8M892 523h4M1422 523h8M896 525h6M1406 525h16M902 527h4M1382 527h24M906 529h4M1358 529h24M910 531h6M1342 531h16M916 533h4M1334 533h8M920 535h6M1326 535h8M926 537h4M1310 537h16M930 539h4M1292 539h18M934 541h6M1280 541h12M940 543h4M1262 543h18M944 545h6M1244 545h18M950 547h4M1232 547h12M954 549h4M1222 549h10M958 551h16M1216 551h6M974 553h14M1210 553h6M988 555h6M1204 555h6M994 557h6M1198 557h6M1000 559h6M1190 559h8M1006 561h10M1182 561h8M1016 563h12M1174 563h8M1028 565h12M1166 565h8M1040 567h12M1158 567h8M1052 569h18M1148 569h10M1070 571h48M1136 571h12M1118 573h18" fill="none" stroke="#e6e61e" stroke-width="2"/>
<path d="M192 245h4M196 247h4M200 249h6M310 249h32M206 251h4M302 251h8M342 251h8M210 253h4M294 253h8M350 253h8M214 255h16M284 255h10M358 255h16M230 257h24M272 257h12M374 257h14M254 259h18M388 259h4M392 261h6M398 263h4M402 265h4M406 267h8M414 269h8M422 271h8M430 273h4M434 275h4M438 277h4M442 279h4M446 281h2M448 283h4M452 285h4M456 287h8M464 289h12M476 291h6M482 293h4M486 295h4M490 297h4M494 299h2M496 301h4M500 303h4M504 305h2M506 307h4M510 309h2M512 311h2M514 313h4M518 315h2M520 317h2M522 319h4M526 321h2M528 323h2M530 325h4M534 327h2M536 329h4M540 331h2M542 333h4M546 335h2M548 337h4M552 339h2M554 341h4M558 343h4M562 345h4M566 347h2M568 349h4M572 351h4M576 353h2M578 355h4M582 357h2M584 359h4M588 361h2M590 363h4M594 365h2M596 367h4M600 369h4M604 371h6M610 373h6M616 375h6M622 377h4M626 379h2M628 381h2M630 383h2M632 385h2M634 387h2M636 389h2M636 391h2M638 393h2M640 395h2M642 397h2M644 399h2M646 401h2M648 403h2M650 405h2M652 407h2M654 409h2M656 411h2M1772 411h4M658 413h2M1766 413h6M660 415h2M1762 415h4M660 417h2M1756 417h6M662 419h2M1750 419h6M664 421h2M1744 421h6M666 423h2M1738 423h6M668 425h2M1732 425h6M670 427h2M1726 427h6M672 429h2M1722 429h4M674 431h4M1718 431h4M678 433h2M1712 433h6M680 435h2M1708 435h4M682 437h4M1704 437h4M686 439h2M1700 439h4M688 441h2M1696 441h4M690 443h4M1694 443h2M694 445h2M1690 445h4M696 447h2M1686 447h4M698 449h4M1682 449h4M702 451h2M1678 451h4M704 453h4M1670 453h8M708 455h2M1662 455h8M710 457h4M1654 457h8M714 459h2M1650 459h4M716 461h4M1646 461h4M720 463h2M1640 463h6M722 465h4M1636 465h4M726 467h2M1632 467h4M728 469h2M1628 469h4M730 471h4M1624 471h4M734 473h2M1620 473h4M736 475h2M1616 475h4M738 477h4M1612 477h4M742 479h2M1608 479h4M744 481h2M1604 481h4M746 483h4M1602 483h2M750 485h2M1598 485h4M752 487h4M1596 487h2M756 489h2M1592 489h4M758 491h4M1590 491h2M762 493h2M1586 493h4M764 495h4M1584 495h2M768 497h2M1580 497h4M770 499h4M1576 499h4M774 501h2M1572 501h4M776 503h4M1568 503h4M780 505h2M1334 505h16M1564 505h4M782 507h4M1310 507h24M1350 507h8M1558 507h6M786 509h2M1294 509h16M1358 509h8M1554 509h4M788 511h4M1286 511h8M1366 511h6M1550 511h4M792 513h2M1278 513h8M1372 513h6M1544 513h6M794 515h4M1272 515h6M1378 515h6M1540 515h4M798 517h2M1268 517h4M1384 517h6M1534 517h6M800 519h4M1264 519h4M1390 519h16M1528 519h6M804 521h2M1262 521h2M1406 521h42M1522 521h6M806 523h4M1258 523h4M1448 523h12M1516 523h6M810 525h2M1254 525h4M1460 525h18M1502 525h14M812 527h4M1250 527h4M1478 527h24M816 529h2M1248 529h2M818 531h2M1244 531h4M820 533h4M1242 533h2M824 535h2M1238 535h4M826 537h2M1236 537h2M828 539h2M1232 539h4M830 541h2M1230 541h2M832 543h4M1226 543h4M836 545h2M1224 545h2M838 547h2M1220 547h4M840 549h14M1216 549h4M854 551h24M1214 551h2M878 553h24M1210 553h4M902 555h24M1206 555h4M926 557h18M1202 557h4M944 559h12M1198 559h4M956 561h18M1192 561h6M974 563h14M1186 563h6M988 565h6M1180 565h6M994 567h6M1174 567h6M1000 569h6M1168 569h6M1006 571h10M1162 571h6M1016 573h12M1070 573h40M1156 573h6M1028 575h42M1110 575h8M1148 575h8M1118 577h8M1136 577h12M1126 579h10" fill="none" stroke="#f01ef0" stroke-width="2"/>
<rect x="236" y="198" width="14" height="2" fill="#ffffff"/>
<rect x="240" y="194" width="2" height="8" fill="#ffffff"/>
<rect x="1724" y="350" width="14" height="2" fill="#ffffff"/>
<rect x="1728" y="346" width="2" height="8" fill="#ffffff"/>
<rect x="1388" y="698" width="14" height="2" fill="#ffffff"/>
<rect x="1392" y="694" width="2" height="8" fill="#ffffff"/>
<rect x="192" y="854" width="2" height="4" fill="#ec4f5f"/>
<rect x="216" y="850" width="2" height="8" fill="#ec4f5f"/>
<rect x="240" y="846" width="2" height="12" fill="#ec4f5f"/>
<rect x="264" y="850" width="2" height="8" fill="#ec4f5f"/>
<rect x="288" y="846" width="2" height="12" fill="#ec4f5f"/>
<rect x="312" y="842" width="2" height="16" fill="#ec4f5f"/>
<rect x="336" y="834" width="2" height="24" fill="#ec4f5f"/>
<rect x="360" y="838" width="2" height="20" fill="#ec4f5f"/>
<rect x="384" y="838" width="2" height="20" fill="#ec4f5f"/>
<rect x="408" y="850" width="2" height="8" fill="#ec4f5f"/>
<rect x="432" y="852" width="2" height="6" fill="#ec4f5f"/>
<rect x="456" y="856" width="2" height="12" fill="#52b98a"/>
<rect x="480" y="856" width="2" height="8" fill="#52b98a"/>
<rect x="504" y="856" width="2" height="16" fill="#52b98a"/>
<rect x="528" y="856" width="2" height="22" fill="#52b98a"/>
<rect x="552" y="856" width="2" height="24" fill="#52b98a"/>
<rect x="576" y="856" width="2" height="24" fill="#52b98a"/>
<rect x="600" y="856" width="2" height="18" fill="#52b98a"/>
<rect x="624" y="856" width="2" height="20" fill="#52b98a"/>
<rect x="648" y="856" width="2" height="46" fill="#52b98a"/>
<rect x="672" y="856" width="2" height="54" fill="#52b98a"/>
<rect x="696" y="856" width="2" height="50" fill="#52b98a"/>
<rect x="720" y="856" width="2" height="46" fill="#52b98a"/>
<rect x="744" y="856" width="2" height="40" fill="#52b98a"/>
<rect x="768" y="856" width="2" height="36" fill="#52b98a"/>
<rect x="792" y="856" width="2" height="32" fill="#52b98a"/>
<rect x="816" y="856" width="2" height="22" fill="#52b98a"/>
<rect x="840" y="856" width="2" height="20" fill="#52b98a"/>
<rect x="864" y="856" width="2" height="14" fill="#52b98a"/>
<rect x="888" y="856" width="2" height="2" fill="#52b98a"/>
<rect x="912" y="840" width="2" height="18" fill="#ec4f5f"/>
<rect x="936" y="832" width="2" height="26" fill="#ec4f5f"/>
<rect x="960" y="830" width="2" height="28" fill="#ec4f5f"/>
<rect x="984" y="832" width="2" height="26" fill="#ec4f5f"/>
<rect x="1008" y="844" width="2" height="14" fill="#ec4f5f"/>
<rect x="1032" y="842" width="2" height="16" fill="#ec4f5f"/>
<rect x="1056" y="836" width="2" height="22" fill="#ec4f5f"/>
<rect x="1080" y="824" width="2" height="34" fill="#ec4f5f"/>
<rect x="1104" y="820" width="2" height="38" fill="#ec4f5f"/>
<rect x="1128" y="820" width="2" height="38" fill="#ec4f5f"/>
<rect x="1152" y="802" width="2" height="56" fill="#ec4f5f"/>
<rect x="1176" y="794" width="2" height="64" fill="#ec4f5f"/>
<rect x="1200" y="788" width="2" height="70" fill="#ec4f5f"/>
<rect x="1224" y="786" width="2" height="72" fill="#ec4f5f"/>
<rect x="1248" y="782" width="2" height="76" fill="#ec4f5f"/>
<rect x="1272" y="784" width="2" height="74" fill="#ec4f5f"/>
<rect x="1296" y="798" width="2" height="60" fill="#ec4f5f"/>
<rect x="1320" y="814" width="2" height="44" fill="#ec4f5f"/>
<rect x="1344" y="830" width="2" height="28" fill="#ec4f5f"/>
<rect x="1368" y="842" width="2" height="16" fill="#ec4f5f"/>
<rect x="1392" y="844" width="2" height="14" fill="#ec4f5f"/>
<rect x="1416" y="840" width="2" height="18" fill="#ec4f5f"/>
<rect x="1440" y="830" width="2" height="28" fill="#ec4f5f"/>
<rect x="1464" y="826" width="2" height="32" fill="#ec4f5f"/>
<rect x="1488" y="828" width="2" height="30" fill="#ec4f5f"/>
<rect x="1512" y="828" width="2" height="30" fill="#ec4f5f"/>
<rect x="1536" y="826" width="2" height="32" fill="#ec4f5f"/>
<rect x="1560" y="828" width="2" height="30" fill="#ec4f5f"/>
<rect x="1584" y="822" width="2" height="36" fill="#ec4f5f"/>
<rect x="1608" y="812" width="2" height="46" fill="#ec4f5f"/>
<rect x="1632" y="808" width="2" height="50" fill="#ec4f5f"/>
<rect x="1656" y="808" width="2" height="50" fill="#ec4f5f"/>
<rect x="1680" y="814" width="2" height="44" fill="#ec4f5f"/>
<rect x="1704" y="808" width="2" height="50" fill="#ec4f5f"/>
<rect x="1728" y="816" width="2" height="42" fill="#ec4f5f"/>
<rect x="1752" y="826" width="2" height="32" fill="#ec4f5f"/>
<rect x="1776" y="834" width="2" height="24" fill="#ec4f5f"/>
<path d="M1702 809h62M1698 811h4M1764 811h12M1694 813h4M1688 815h6M1684 817h4M1670 819h14M1654 821h16M1646 823h8M1638 825h8M1630 827h8M1624 829h6M1618 831h6M1612 833h6M1606 835h6M1602 837h4M1598 839h4M1592 841h6M1588 843h4M1582 845h6M1576 847h6M1570 849h6M1564 851h6M1550 853h14M1532 855h18M1520 857h12M1508 859h12M1496 861h12M1478 863h18M1462 865h16M1456 867h6M1450 869h6M1444 871h6M1270 873h40M1438 873h6M1262 875h8M1310 875h16M1430 875h8M1254 877h8M1326 877h8M1422 877h8M1248 879h6M1334 879h8M1414 879h8M1244 881h4M1342 881h10M1406 881h8M1240 883h4M1352 883h12M1398 883h8M1236 885h4M1364 885h34M1232 887h4M1228 889h4M1224 891h4M1220 893h4M1216 895h4M1212 897h4M1208 899h4M1204 901h4M1198 903h6M1194 905h4M1190 907h4M1184 909h6M1180 911h4M1176 913h4M1172 915h4M1168 917h4M1166 919h2M1162 921h4M374 923h16M1158 923h4M334 925h40M390 925h8M1154 925h4M328 927h6M398 927h8M1152 927h2M322 929h6M406 929h30M1148 929h4M316 931h6M436 931h6M1146 931h2M308 933h8M442 933h6M1142 933h4M296 935h12M448 935h6M470 935h14M1140 935h2M278 937h18M454 937h16M484 937h6M1136 937h4M230 939h48M490 939h6M1134 939h2M212 941h18M496 941h6M1130 941h4M200 943h12M502 943h10M1118 943h12M192 945h8M512 945h12M1102 945h16M524 947h12M1096 947h6M536 949h12M1090 949h6M548 951h18M1084 951h6M566 953h42M1078 953h6M608 955h12M1074 955h4M620 957h6M1070 957h4M626 959h4M1064 959h6M630 961h2M1060 961h4M632 963h2M1054 963h6M634 965h4M1046 965h8M638 967h2M974 967h18M1038 967h8M640 969h2M956 969h18M992 969h12M1022 969h16M642 971h4M944 971h12M1004 971h18M646 973h2M934 973h10M648 975h4M928 975h6M652 977h4M922 977h6M656 979h6M916 979h6M662 981h4M910 981h6M666 983h4M904 983h6M670 985h10M898 985h6M680 987h12M892 987h6M692 989h12M886 989h6M704 991h12M878 991h8M716 993h18M870 993h8M734 995h136" fill="none" stroke="#f4f4f4" stroke-width="2"/>
<path d="M1770 821h6M1758 823h12M1748 825h10M1736 827h12M1724 829h12M1712 831h12M1702 833h10M1694 835h8M1686 837h8M1678 839h8M1670 841h8M1662 843h8M1654 845h8M1646 847h8M1638 849h8M1630 851h8M1622 853h8M1614 855h8M1606 857h8M1598 859h8M1590 861h8M1580 863h10M1568 865h12M1556 867h12M1544 869h12M1526 871h18M1508 873h18M1496 875h12M1484 877h12M1472 879h12M1460 881h12M1448 883h12M1436 885h12M1424 887h12M1406 889h18M1358 891h48M1340 893h18M1328 895h12M1316 897h12M1304 899h12M1294 901h10M1288 903h6M1282 905h6M1276 907h6M1270 909h6M1266 911h4M1262 913h4M1256 915h6M1252 917h4M1246 919h6M1242 921h4M1238 923h4M1232 925h6M1228 927h4M1222 929h6M398 931h48M1216 931h6M374 933h24M446 933h48M1210 933h6M350 935h24M494 935h24M1204 935h6M326 937h24M518 937h18M1198 937h6M302 939h24M536 939h12M1192 939h6M278 941h24M548 941h18M1186 941h6M230 943h48M566 943h24M1180 943h6M192 945h38M590 945h24M1174 945h6M614 947h16M1166 947h8M630 949h8M1158 949h8M638 951h8M1150 951h8M646 953h8M1142 953h8M654 955h8M1134 955h8M662 957h8M1126 957h8M670 959h8M1118 959h8M678 961h8M1110 961h8M686 963h8M1100 963h10M694 965h8M1088 965h12M702 967h8M1078 967h10M710 969h8M1070 969h8M718 971h10M1062 971h8M728 973h12M1046 973h16M740 975h12M1022 975h24M752 977h12M998 977h24M764 979h12M974 979h24M776 981h12M956 981h18M788 983h18M944 983h12M806 985h18M926 985h18M824 987h12M902 987h24M836 989h66" fill="none" stroke="#e6e61e" stroke-width="2"/>
<path d="M1704 1043h2M1702 1045h2M1706 1045h2M1700 1047h2M1706 1047h2M1700 1049h2M1708 1049h2M1698 1051h2M1708 1051h2M1696 1053h2M1710 1053h2M1694 1055h2M1710 1055h2M1694 1057h2M1712 1057h2M1692 1059h2M1714 1059h2M1690 1061h2M1714 1061h2M1608 1063h38M1688 1063h2M1716 1063h2M1606 1065h2M1646 1065h14M1688 1065h2M1716 1065h2M1604 1067h2M1660 1067h4M1686 1067h2M1718 1067h2M1602 1069h2M1664 1069h6M1684 1069h2M1718 1069h2M1600 1071h2M1670 1071h4M1682 1071h2M1720 1071h2M1598 1073h2M1674 1073h4M1682 1073h2M1722 1073h2M1596 1075h2M1678 1075h4M1722 1075h2M1596 1077h2M1724 1077h2M1594 1079h2M1724 1079h2M1592 1081h2M1726 1081h2M1590 1083h2M1726 1083h2M1588 1085h2M1728 1085h6M1586 1087h2M1734 1087h8M1584 1089h2M1742 1089h8M1582 1091h2M1750 1091h14M1248 1093h2M1580 1093h2M1764 1093h12M1246 1095h2M1250 1095h4M1578 1095h2M1244 1097h2M1254 1097h2M1576 1097h2M1240 1099h4M1256 1099h4M1574 1099h2M1238 1101h2M1260 1101h2M1536 1101h4M1572 1101h2M1236 1103h2M1262 1103h4M1532 1103h4M1540 1103h4M1570 1103h2M1234 1105h2M1266 1105h2M1528 1105h4M1544 1105h4M1568 1105h2M1232 1107h2M1268 1107h4M1440 1107h26M1524 1107h4M1548 1107h4M1566 1107h2M1228 1109h4M1272 1109h2M1438 1109h2M1466 1109h4M1520 1109h4M1552 1109h4M1564 1109h2M1226 1111h2M1274 1111h2M1436 1111h2M1470 1111h4M1516 1111h4M1556 1111h4M1562 1111h2M1222 1113h4M1276 1113h2M1432 1113h4M1474 1113h4M1510 1113h6M1560 1113h2M1216 1115h6M1276 1115h2M1430 1115h2M1478 1115h2M1504 1115h6M1210 1117h6M1278 1117h2M1428 1117h2M1480 1117h4M1498 1117h6M1152 1119h14M1204 1119h6M1280 1119h2M1426 1119h2M1484 1119h4M1492 1119h6M1152 1121h2M1166 1121h38M1282 1121h2M1424 1121h2M1488 1121h4M1150 1123h2M1284 1123h2M1420 1123h4M1150 1125h2M1284 1125h2M1418 1125h2M1148 1127h2M1286 1127h2M1416 1127h2M1148 1129h2M1288 1129h2M1414 1129h2M1148 1131h2M1290 1131h2M1412 1131h2M1146 1133h2M1292 1133h2M1410 1133h2M1146 1135h2M1292 1135h2M1408 1135h2M1144 1137h2M1294 1137h2M1406 1137h2M1144 1139h2M1296 1139h2M1404 1139h2M1144 1141h2M1298 1141h4M1402 1141h2M1142 1143h2M1302 1143h2M1400 1143h2M1142 1145h2M1304 1145h2M1398 1145h2M1140 1147h2M1306 1147h4M1396 1147h2M1140 1149h2M1310 1149h2M1394 1149h2M336 1151h2M1140 1151h2M1312 1151h2M1392 1151h2M332 1153h4M338 1153h2M1138 1153h2M1314 1153h4M1388 1153h4M328 1155h4M340 1155h2M1138 1155h2M1318 1155h2M1384 1155h4M326 1157h2M342 1157h2M1080 1157h4M1136 1157h2M1320 1157h4M1382 1157h2M322 1159h4M344 1159h2M1078 1159h2M1084 1159h4M1136 1159h2M1324 1159h6M1378 1159h4M318 1161h4M346 1161h4M1076 1161h2M1088 1161h6M1136 1161h2M1330 1161h6M1374 1161h4M314 1163h4M350 1163h2M1074 1163h2M1094 1163h4M1134 1163h2M1336 1163h6M1370 1163h4M192 1165h6M302 1165h12M352 1165h2M382 1165h4M1074 1165h2M1098 1165h4M1134 1165h2M1342 1165h28M198 1167h8M288 1167h14M354 1167h2M376 1167h6M386 1167h2M1072 1167h2M1102 1167h6M1132 1167h2M206 1169h8M230 1169h12M284 1169h4M356 1169h2M370 1169h6M388 1169h2M480 1169h2M1070 1169h2M1108 1169h4M1132 1169h2M214 1171h16M242 1171h4M282 1171h2M358 1171h2M364 1171h6M390 1171h2M478 1171h2M482 1171h2M1068 1171h2M1112 1171h4M1132 1171h2M246 1173h4M278 1173h4M360 1173h4M390 1173h2M478 1173h2M484 1173h2M1066 1173h2M1116 1173h4M1130 1173h2M250 1175h4M276 1175h2M392 1175h2M476 1175h2M486 1175h2M1064 1175h2M1120 1175h4M1130 1175h2M254 1177h2M272 1177h4M394 1177h2M432 1177h2M474 1177h2M488 1177h2M1062 1177h2M1124 1177h6M256 1179h4M270 1179h2M396 1179h2M428 1179h4M434 1179h2M472 1179h2M490 1179h2M1062 1179h2M1128 1179h2M260 1181h4M266 1181h4M398 1181h2M426 1181h2M436 1181h2M472 1181h2M492 1181h2M1060 1181h2M264 1183h2M400 1183h2M422 1183h4M438 1183h2M470 1183h2M494 1183h2M912 1183h4M1058 1183h2M402 1185h2M420 1185h2M440 1185h2M468 1185h2M496 1185h2M910 1185h2M916 1185h6M1056 1185h2M402 1187h2M416 1187h4M442 1187h2M468 1187h2M498 1187h2M908 1187h2M922 1187h6M1052 1187h4M404 1189h2M414 1189h2M444 1189h2M466 1189h2M500 1189h2M906 1189h2M928 1189h6M1048 1189h4M406 1191h2M410 1191h4M444 1191h2M464 1191h2M502 1191h2M598 1191h4M904 1191h2M934 1191h6M1046 1191h2M408 1193h2M446 1193h2M464 1193h2M504 1193h8M594 1193h4M602 1193h4M902 1193h2M940 1193h6M1042 1193h4M448 1195h2M462 1195h2M512 1195h12M590 1195h4M606 1195h4M900 1195h2M946 1195h6M1038 1195h4M450 1197h2M460 1197h2M524 1197h36M584 1197h6M610 1197h4M900 1197h2M952 1197h6M1034 1197h4M452 1199h2M458 1199h2M560 1199h12M580 1199h4M614 1199h2M898 1199h2M958 1199h6M1032 1199h2M454 1201h2M458 1201h2M572 1201h8M616 1201h4M896 1201h2M964 1201h4M1030 1201h2M456 1203h2M620 1203h4M894 1203h2M968 1203h6M1028 1203h2M624 1205h2M892 1205h2M974 1205h4M1028 1205h2M626 1207h2M890 1207h2M978 1207h4M1026 1207h2M626 1209h2M888 1209h2M982 1209h4M1024 1209h2M628 1211h2M884 1211h4M986 1211h2M1022 1211h2M630 1213h2M880 1213h4M988 1213h2M1022 1213h2M630 1215h2M878 1215h2M990 1215h2M1020 1215h2M632 1217h2M696 1217h14M874 1217h4M992 1217h2M1018 1217h2M634 1219h2M692 1219h4M710 1219h16M870 1219h4M994 1219h4M1016 1219h2M634 1221h2M688 1221h4M726 1221h8M866 1221h4M998 1221h2M1016 1221h2M636 1223h2M684 1223h4M734 1223h8M814 1223h4M864 1223h2M1000 1223h2M1014 1223h2M638 1225h2M680 1225h4M742 1225h10M808 1225h6M818 1225h4M860 1225h4M1002 1225h2M1012 1225h2M638 1227h2M676 1227h4M752 1227h12M802 1227h6M822 1227h4M856 1227h4M1004 1227h2M1010 1227h2M640 1229h2M672 1229h4M764 1229h18M796 1229h6M826 1229h4M854 1229h2M1006 1229h2M1010 1229h2M642 1231h2M668 1231h4M782 1231h14M830 1231h2M850 1231h4M1008 1231h2M642 1233h2M664 1233h4M832 1233h4M846 1233h4M644 1235h2M660 1235h4M836 1235h4M842 1235h4M646 1237h2M656 1237h4M840 1237h2M646 1239h2M652 1239h4M648 1241h4" fill="none" stroke="#f01ef0" stroke-width="2"/>
</g>
<text x="98" y="50" fill="#e8e8e8" font-size="25" textLength="76" lengthAdjust="spacing">0.6692</text>
<text x="1916" y="50" fill="#e8e8e8" font-size="25" textLength="76" lengthAdjust="spacing">0.6692</text>
<text x="98" y="164" fill="#e8e8e8" font-size="25" textLength="76" lengthAdjust="spacing">0.6585</text>
<text x="1916" y="164" fill="#e8e8e8" font-size="25" textLength="76" lengthAdjust="spacing">0.6585</text>
<text x="98" y="280" fill="#e8e8e8" font-size="25" textLength="76" lengthAdjust="spacing">0.6478</text>
<text x="1916" y="280" fill="#e8e8e8" font-size="25" textLength="76" lengthAdjust="spacing">0.6478</text>
<text x="98" y="396" fill="#e8e8e8" font-size="25" textLength="76" lengthAdjust="spacing">0.6371</text>
<text x="1916" y="396" fill="#e8e8e8" font-size="25" textLength="76" lengthAdjust="spacing">0.6371</text>
<text x="98" y="512" fill="#e8e8e8" font-size="25" textLength="76" lengthAdjust="spacing">0.6265</text>
<text x="1916" y="512" fill="#e8e8e8" font-size="25" textLength="76" lengthAdjust="spacing">0.6265</text>
<text x="98" y="628" fill="#e8e8e8" font-size="25" textLength="76" lengthAdjust="spacing">0.6158</text>
<text x="1916" y="628" fill="#e8e8e8" font-size="25" textLength="76" lengthAdjust="spacing">0.6158</text>
<text x="98" y="786" fill="#e8e8e8" font-size="25" textLength="76" lengthAdjust="spacing">0.0044</text>
<text x="1916" y="786" fill="#e8e8e8" font-size="25" textLength="76" lengthAdjust="spacing">0.0044</text>
<text x="98" y="840" fill="#e8e8e8" font-size="25" textLength="76" lengthAdjust="spacing">0.0013</text>
<text x="1916" y="840" fill="#e8e8e8" font-size="25" textLength="76" lengthAdjust="spacing">0.0013</text>
<text x="90" y="894" fill="#e8e8e8" font-size="25" textLength="84" lengthAdjust="spacing">-0.0018</text>
<text x="1916" y="894" fill="#e8e8e8" font-size="25" textLength="84" lengthAdjust="spacing">-0.0018</text>
<text x="90" y="948" fill="#e8e8e8" font-size="25" textLength="84" lengthAdjust="spacing">-0.0049</text>
<text x="1916" y="948" fill="#e8e8e8" font-size="25" textLength="84" lengthAdjust="spacing">-0.0049</text>
<text x="84" y="1048" fill="#e8e8e8" font-size="25" textLength="90" lengthAdjust="spacing">68.4417</text>
<text x="1916" y="1048" fill="#e8e8e8" font-size="25" textLength="90" lengthAdjust="spacing">68.4417</text>
<text x="84" y="1098" fill="#e8e8e8" font-size="25" textLength="90" lengthAdjust="spacing">57.5313</text>
<text x="1916" y="1098" fill="#e8e8e8" font-size="25" textLength="90" lengthAdjust="spacing">57.5313</text>
<text x="84" y="1148" fill="#e8e8e8" font-size="25" textLength="90" lengthAdjust="spacing">46.6208</text>
<text x="1916" y="1148" fill="#e8e8e8" font-size="25" textLength="90" lengthAdjust="spacing">46.6208</text>
<text x="84" y="1198" fill="#e8e8e8" font-size="25" textLength="90" lengthAdjust="spacing">35.7103</text>
<text x="1916" y="1198" fill="#e8e8e8" font-size="25" textLength="90" lengthAdjust="spacing">35.7103</text>
<rect x="1910" y="416" width="138" height="36" fill="#f09a3a"/>
<rect x="1912" y="418" width="134" height="32" fill="#000000"/>
<text x="1916" y="442" fill="#f08c28" font-size="25" textLength="76" lengthAdjust="spacing">0.6347</text>
<rect x="2030" y="400" width="16" height="16" fill="#050505"/>
<path d="M2038 400 L2046 408 L2030 408 Z M2038 408 L2046 416 L2030 416 Z" fill="#f09a3a"/>
<text x="1834" y="352" fill="#ffff00" font-size="25" textLength="76" lengthAdjust="spacing">0.6400</text>
<text x="1834" y="433" fill="#ffff00" font-size="25" textLength="76" lengthAdjust="spacing">0.6326</text>
<text x="1738" y="344" fill="#e8505a" font-size="25" textLength="76" lengthAdjust="spacing">0.6408</text>
<text x="250" y="192" fill="#e8505a" font-size="25" textLength="76" lengthAdjust="spacing">0.6549</text>
<text x="1402" y="722" fill="#4fb08a" font-size="25" textLength="76" lengthAdjust="spacing">0.6087</text>
<text x="184" y="28.12" fill="#e8e8e8" font-size="24" font-family="'Liberation Sans','Noto Sans CJK SC',sans-serif">澳元美元</text>
<text x="280" y="28.62" fill="#ee6a10" font-size="24" font-family="'Liberation Sans','Noto Sans CJK SC',sans-serif">【日线】</text>
<g stroke="#e8650a" stroke-width="2" fill="none"><circle cx="387" cy="22.5" r="7.5"/><path d="M379 22.5H395M387 14.5V30.5"/></g>
<rect x="413" y="4" width="23" height="25" fill="#9a9a9a"/>
<rect x="411" y="2" width="23" height="25" fill="#101070"/>
<rect x="413" y="4" width="19" height="21" fill="#ffffff"/>
<polyline points="414,15 418,10 421,13 425,8 428,11 431,9" fill="none" stroke="#e02020" stroke-width="2"/>
<polyline points="414,22 418,17 421,20 425,15 428,18 431,16" fill="none" stroke="#2030e0" stroke-width="2"/>
<text x="441.3" y="28" fill="#e4e4e4" font-size="25" textLength="264.3" lengthAdjust="spacing">MA(50,14,9,20,100,200)</text>
<text x="717.2" y="28" fill="#e4e4e4" font-size="25" textLength="146" lengthAdjust="spacing">MA50:0.6262</text>
<text x="882.8" y="28" fill="#d2d21e" font-size="25" textLength="147.6" lengthAdjust="spacing">MA14:0.6326</text>
<text x="1048" y="28" fill="#e61ee6" font-size="25" textLength="134" lengthAdjust="spacing">MA9:0.6352</text>
<text x="1200.5" y="28" fill="#20c820" font-size="25" textLength="148.4" lengthAdjust="spacing">MA20:0.6299</text>
<text x="1366.5" y="28" fill="#858585" font-size="25" textLength="161" lengthAdjust="spacing">MA100:0.6411</text>
<text x="1546" y="28" fill="#e63232" font-size="25" textLength="87.6" lengthAdjust="spacing">MA200:</text>
<text x="184.2" y="764" fill="#e4e4e4" font-size="25" textLength="310.7" lengthAdjust="spacing">MACD(26,12,9) DIFF:0.0026</text>
<text x="511.9" y="764" fill="#d2d21e" font-size="25" textLength="128.8" lengthAdjust="spacing">DEA:0.0020</text>
<text x="657.7" y="764" fill="#e61ee6" font-size="25" textLength="154.5" lengthAdjust="spacing">MACD:0.0013</text>
<text x="184" y="1026" fill="#e4e4e4" font-size="25" textLength="304" lengthAdjust="spacing">RSI(14,14,14) RSI1:57.5015</text>
<text x="506.8" y="1026" fill="#d2d21e" font-size="25" textLength="145.1" lengthAdjust="spacing">RSI2:57.5015</text>
<text x="671" y="1026" fill="#e61ee6" font-size="25" textLength="145.1" lengthAdjust="spacing">RSI3:57.5015</text>
<rect x="1782" y="0" width="128" height="31" fill="#000000"/>
<rect x="1785" y="3" width="26" height="26" fill="none" stroke="#b4b4b4" stroke-width="2"/>
<rect x="1817" y="3" width="26" height="26" fill="none" stroke="#b4b4b4" stroke-width="2"/>
<rect x="1849" y="3" width="26" height="26" fill="none" stroke="#1e82dc" stroke-width="2"/>
<rect x="1881" y="3" width="26" height="26" fill="none" stroke="#b4b4b4" stroke-width="2"/>
<rect x="1788" y="14" width="6" height="4" fill="#b4b4b4"/>
<rect x="1802" y="14" width="6" height="4" fill="#b4b4b4"/>
<rect x="1796" y="6" width="4" height="6" fill="#b4b4b4"/>
<rect x="1796" y="20" width="4" height="6" fill="#b4b4b4"/>
<rect x="1822" y="7" width="2" height="19" fill="#b4b4b4"/>
<rect x="1820" y="22" width="20" height="2" fill="#b4b4b4"/>
<rect x="1820" y="9" width="6" height="2" fill="#b4b4b4"/>
<rect x="1836" y="20" width="2" height="6" fill="#b4b4b4"/>
<rect x="1829" y="8" width="2" height="12" fill="#b4b4b4"/>
<path d="M1832 14 L1836 10 V18 Z" fill="#b4b4b4"/>
<rect x="1854" y="7" width="2" height="19" fill="#1e82dc"/>
<rect x="1852" y="22" width="20" height="2" fill="#1e82dc"/>
<rect x="1852" y="9" width="6" height="2" fill="#1e82dc"/>
<rect x="1868" y="20" width="2" height="6" fill="#1e82dc"/>
<path d="M1860 8 L1870 15 L1860 21 Z" fill="#1e82dc"/>
<rect x="1886" y="7" width="5" height="18" fill="none" stroke="#b4b4b4" stroke-width="2"/>
<rect x="1888" y="14" width="12" height="3" fill="#b4b4b4"/>
<path d="M1898 10 L1903 15.5 L1898 21 Z" fill="#b4b4b4"/>
<g><circle cx="58" cy="1012" r="7.5" fill="#000"/><circle cx="58" cy="1012" r="5.5" fill="#fff"/><rect x="54" y="1010" width="8" height="4" fill="#ff0000"/><rect x="56" y="1008" width="4" height="8" fill="#ff0000"/><g stroke="#ff0000" stroke-width="2"><path d="M58 998v4M58 1022v4M44 1012h4M68 1012h4M47 1001l3 3M69 1001l-3 3M47 1023l3-3M69 1023l-3-3"/></g></g>
<text x="69" y="1274" fill="#ff6a00" font-size="25" font-weight="bold" font-family="'Liberation Serif','Noto Serif CJK SC',serif">日线</text>
<path d="M138.5 1256.5 L147.5 1273 L129.5 1273 Z" fill="#ff6a00"/>
<text x="364" y="1268" fill="#f4f4f4" font-size="25" textLength="89" lengthAdjust="spacing" font-weight="bold">2024/12</text>
<text x="868" y="1268" fill="#f4f4f4" font-size="25" textLength="89" lengthAdjust="spacing" font-weight="bold">2025/01</text>
<text x="1396" y="1268" fill="#f4f4f4" font-size="25" textLength="89" lengthAdjust="spacing" font-weight="bold">2025/02</text>
<rect x="40" y="1284" width="1722" height="30" fill="#000000"/>
<rect x="40" y="1284" width="78" height="28" fill="#1a1a1a"/>
<rect x="120" y="1284" width="78" height="28" fill="#1a1a1a"/>
<rect x="200" y="1282" width="114" height="30" fill="#ff6a00"/>
<text x="55" y="1306.12" fill="#ffffff" font-size="24" font-family="'Liberation Serif','Noto Serif CJK SC',serif">指标</text>
<text x="135" y="1306.12" fill="#ffffff" font-size="24" font-family="'Liberation Serif','Noto Serif CJK SC',serif">模板</text>
<text x="251" y="1306.12" fill="#ffffff" font-size="24" font-family="'Liberation Serif','Noto Serif CJK SC',serif">指标</text>
<text transform="translate(222,1305) scale(0.8,1)" fill="#ffffff" font-size="24" font-family="Liberation Serif" text-anchor="middle">V</text>
<text transform="translate(234,1305) scale(0.8,1)" fill="#ffffff" font-size="24" font-family="Liberation Serif" text-anchor="middle">I</text>
<text transform="translate(246,1305) scale(0.8,1)" fill="#ffffff" font-size="24" font-family="Liberation Serif" text-anchor="middle">P</text>
<rect x="316" y="1284" width="150" height="28" fill="#0a0a0a"/>
<rect x="466" y="1284" width="2" height="28" fill="#262626"/>
<text transform="translate(337,1305) scale(0.8,1)" fill="#b0b0b0" font-size="24" font-family="Liberation Serif" text-anchor="middle">B</text>
<text transform="translate(349,1305) scale(0.8,1)" fill="#b0b0b0" font-size="24" font-family="Liberation Serif" text-anchor="middle">A</text>
<text transform="translate(361,1305) scale(0.8,1)" fill="#b0b0b0" font-size="24" font-family="Liberation Serif" text-anchor="middle">R</text>
<text transform="translate(373,1305) scale(0.8,1)" fill="#b0b0b0" font-size="24" font-family="Liberation Serif" text-anchor="middle">U</text>
<text transform="translate(385,1305) scale(0.8,1)" fill="#b0b0b0" font-size="24" font-family="Liberation Serif" text-anchor="middle">P</text>
<text transform="translate(397,1305) scale(0.8,1)" fill="#b0b0b0" font-size="24" font-family="Liberation Serif" text-anchor="middle">D</text>
<text transform="translate(409,1305) scale(0.8,1)" fill="#b0b0b0" font-size="24" font-family="Liberation Serif" text-anchor="middle">N</text>
<text transform="translate(421,1305) scale(0.8,1)" fill="#b0b0b0" font-size="24" font-family="Liberation Serif" text-anchor="middle">_</text>
<text transform="translate(433,1305) scale(0.8,1)" fill="#b0b0b0" font-size="24" font-family="Liberation Serif" text-anchor="middle">U</text>
<text transform="translate(445,1305) scale(0.8,1)" fill="#b0b0b0" font-size="24" font-family="Liberation Serif" text-anchor="middle">D</text>
<rect x="468" y="1284" width="114" height="28" fill="#0a0a0a"/>
<rect x="582" y="1284" width="2" height="28" fill="#262626"/>
<text transform="translate(489,1305) scale(0.8,1)" fill="#b0b0b0" font-size="24" font-family="Liberation Serif" text-anchor="middle">B</text>
<text transform="translate(501,1305) scale(0.8,1)" fill="#b0b0b0" font-size="24" font-family="Liberation Serif" text-anchor="middle">I</text>
<text transform="translate(513,1305) scale(0.8,1)" fill="#b0b0b0" font-size="24" font-family="Liberation Serif" text-anchor="middle">A</text>
<text transform="translate(525,1305) scale(0.8,1)" fill="#b0b0b0" font-size="24" font-family="Liberation Serif" text-anchor="middle">S</text>
<text transform="translate(537,1305) scale(0.8,1)" fill="#b0b0b0" font-size="24" font-family="Liberation Serif" text-anchor="middle">_</text>
<text transform="translate(549,1305) scale(0.8,1)" fill="#b0b0b0" font-size="24" font-family="Liberation Serif" text-anchor="middle">U</text>
<text transform="translate(561,1305) scale(0.8,1)" fill="#b0b0b0" font-size="24" font-family="Liberation Serif" text-anchor="middle">D</text>
<rect x="584" y="1284" width="114" height="28" fill="#0a0a0a"/>
<rect x="698" y="1284" width="2" height="28" fill="#262626"/>
<text transform="translate(605,1305) scale(0.8,1)" fill="#b0b0b0" font-size="24" font-family="Liberation Serif" text-anchor="middle">B</text>
<text transform="translate(617,1305) scale(0.8,1)" fill="#b0b0b0" font-size="24" font-family="Liberation Serif" text-anchor="middle">O</text>
<text transform="translate(629,1305) scale(0.8,1)" fill="#b0b0b0" font-size="24" font-family="Liberation Serif" text-anchor="middle">L</text>
<text transform="translate(641,1305) scale(0.8,1)" fill="#b0b0b0" font-size="24" font-family="Liberation Serif" text-anchor="middle">L</text>
<text transform="translate(653,1305) scale(0.8,1)" fill="#b0b0b0" font-size="24" font-family="Liberation Serif" text-anchor="middle">_</text>
<text transform="translate(665,1305) scale(0.8,1)" fill="#b0b0b0" font-size="24" font-family="Liberation Serif" text-anchor="middle">U</text>
<text transform="translate(677,1305) scale(0.8,1)" fill="#b0b0b0" font-size="24" font-family="Liberation Serif" text-anchor="middle">D</text>
<rect x="700" y="1284" width="102" height="28" fill="#0a0a0a"/>
<rect x="802" y="1284" width="2" height="28" fill="#262626"/>
<text transform="translate(721,1305) scale(0.8,1)" fill="#b0b0b0" font-size="24" font-family="Liberation Serif" text-anchor="middle">C</text>
<text transform="translate(733,1305) scale(0.8,1)" fill="#b0b0b0" font-size="24" font-family="Liberation Serif" text-anchor="middle">C</text>
<text transform="translate(745,1305) scale(0.8,1)" fill="#b0b0b0" font-size="24" font-family="Liberation Serif" text-anchor="middle">I</text>
<text transform="translate(757,1305) scale(0.8,1)" fill="#b0b0b0" font-size="24" font-family="Liberation Serif" text-anchor="middle">_</text>
<text transform="translate(769,1305) scale(0.8,1)" fill="#b0b0b0" font-size="24" font-family="Liberation Serif" text-anchor="middle">U</text>
<text transform="translate(781,1305) scale(0.8,1)" fill="#b0b0b0" font-size="24" font-family="Liberation Serif" text-anchor="middle">D</text>
<rect x="804" y="1284" width="102" height="28" fill="#0a0a0a"/>
<rect x="906" y="1284" width="2" height="28" fill="#262626"/>
<text transform="translate(825,1305) scale(0.8,1)" fill="#b0b0b0" font-size="24" font-family="Liberation Serif" text-anchor="middle">D</text>
<text transform="translate(837,1305) scale(0.8,1)" fill="#b0b0b0" font-size="24" font-family="Liberation Serif" text-anchor="middle">M</text>
<text transform="translate(849,1305) scale(0.8,1)" fill="#b0b0b0" font-size="24" font-family="Liberation Serif" text-anchor="middle">I</text>
<text transform="translate(861,1305) scale(0.8,1)" fill="#b0b0b0" font-size="24" font-family="Liberation Serif" text-anchor="middle">_</text>
<text transform="translate(873,1305) scale(0.8,1)" fill="#b0b0b0" font-size="24" font-family="Liberation Serif" text-anchor="middle">U</text>
<text transform="translate(885,1305) scale(0.8,1)" fill="#b0b0b0" font-size="24" font-family="Liberation Serif" text-anchor="middle">D</text>
<rect x="908" y="1284" width="138" height="28" fill="#0a0a0a"/>
<rect x="1046" y="1284" width="2" height="28" fill="#262626"/>
<text transform="translate(929,1305) scale(0.8,1)" fill="#b0b0b0" font-size="24" font-family="Liberation Serif" text-anchor="middle">I</text>
<text transform="translate(941,1305) scale(0.8,1)" fill="#b0b0b0" font-size="24" font-family="Liberation Serif" text-anchor="middle">N</text>
<text transform="translate(953,1305) scale(0.8,1)" fill="#b0b0b0" font-size="24" font-family="Liberation Serif" text-anchor="middle">S</text>
<text transform="translate(965,1305) scale(0.8,1)" fill="#b0b0b0" font-size="24" font-family="Liberation Serif" text-anchor="middle">I</text>
<text transform="translate(977,1305) scale(0.8,1)" fill="#b0b0b0" font-size="24" font-family="Liberation Serif" text-anchor="middle">D</text>
<text transform="translate(989,1305) scale(0.8,1)" fill="#b0b0b0" font-size="24" font-family="Liberation Serif" text-anchor="middle">E</text>
<text transform="translate(1001,1305) scale(0.8,1)" fill="#b0b0b0" font-size="24" font-family="Liberation Serif" text-anchor="middle">_</text>
<text transform="translate(1013,1305) scale(0.8,1)" fill="#b0b0b0" font-size="24" font-family="Liberation Serif" text-anchor="middle">U</text>
<text transform="translate(1025,1305) scale(0.8,1)" fill="#b0b0b0" font-size="24" font-family="Liberation Serif" text-anchor="middle">D</text>
<rect x="1048" y="1284" width="90" height="28" fill="#0a0a0a"/>
<rect x="1138" y="1284" width="2" height="28" fill="#262626"/>
<text transform="translate(1069,1305) scale(0.8,1)" fill="#b0b0b0" font-size="24" font-family="Liberation Serif" text-anchor="middle">K</text>
<text transform="translate(1081,1305) scale(0.8,1)" fill="#b0b0b0" font-size="24" font-family="Liberation Serif" text-anchor="middle">D</text>
<text transform="translate(1093,1305) scale(0.8,1)" fill="#b0b0b0" font-size="24" font-family="Liberation Serif" text-anchor="middle">_</text>
<text transform="translate(1105,1305) scale(0.8,1)" fill="#b0b0b0" font-size="24" font-family="Liberation Serif" text-anchor="middle">U</text>
<text transform="translate(1117,1305) scale(0.8,1)" fill="#b0b0b0" font-size="24" font-family="Liberation Serif" text-anchor="middle">D</text>
<rect x="1140" y="1284" width="102" height="28" fill="#0a0a0a"/>
<rect x="1242" y="1284" width="2" height="28" fill="#262626"/>
<text transform="translate(1161,1305) scale(0.8,1)" fill="#b0b0b0" font-size="24" font-family="Liberation Serif" text-anchor="middle">K</text>
<text transform="translate(1173,1305) scale(0.8,1)" fill="#b0b0b0" font-size="24" font-family="Liberation Serif" text-anchor="middle">D</text>
<text transform="translate(1185,1305) scale(0.8,1)" fill="#b0b0b0" font-size="24" font-family="Liberation Serif" text-anchor="middle">J</text>
<text transform="translate(1197,1305) scale(0.8,1)" fill="#b0b0b0" font-size="24" font-family="Liberation Serif" text-anchor="middle">_</text>
<text transform="translate(1209,1305) scale(0.8,1)" fill="#b0b0b0" font-size="24" font-family="Liberation Serif" text-anchor="middle">U</text>
<text transform="translate(1221,1305) scale(0.8,1)" fill="#b0b0b0" font-size="24" font-family="Liberation Serif" text-anchor="middle">D</text>
<rect x="1244" y="1284" width="90" height="28" fill="#0a0a0a"/>
<rect x="1334" y="1284" width="2" height="28" fill="#262626"/>
<text transform="translate(1265,1305) scale(0.8,1)" fill="#b0b0b0" font-size="24" font-family="Liberation Serif" text-anchor="middle">M</text>
<text transform="translate(1277,1305) scale(0.8,1)" fill="#b0b0b0" font-size="24" font-family="Liberation Serif" text-anchor="middle">A</text>
<text transform="translate(1289,1305) scale(0.8,1)" fill="#b0b0b0" font-size="24" font-family="Liberation Serif" text-anchor="middle">_</text>
<text transform="translate(1301,1305) scale(0.8,1)" fill="#b0b0b0" font-size="24" font-family="Liberation Serif" text-anchor="middle">U</text>
<text transform="translate(1313,1305) scale(0.8,1)" fill="#b0b0b0" font-size="24" font-family="Liberation Serif" text-anchor="middle">D</text>
<rect x="1336" y="1284" width="114" height="28" fill="#0a0a0a"/>
<rect x="1450" y="1284" width="2" height="28" fill="#262626"/>
<text transform="translate(1357,1305) scale(0.8,1)" fill="#b0b0b0" font-size="24" font-family="Liberation Serif" text-anchor="middle">M</text>
<text transform="translate(1369,1305) scale(0.8,1)" fill="#b0b0b0" font-size="24" font-family="Liberation Serif" text-anchor="middle">A</text>
<text transform="translate(1381,1305) scale(0.8,1)" fill="#b0b0b0" font-size="24" font-family="Liberation Serif" text-anchor="middle">C</text>
<text transform="translate(1393,1305) scale(0.8,1)" fill="#b0b0b0" font-size="24" font-family="Liberation Serif" text-anchor="middle">D</text>
<text transform="translate(1405,1305) scale(0.8,1)" fill="#b0b0b0" font-size="24" font-family="Liberation Serif" text-anchor="middle">_</text>
<text transform="translate(1417,1305) scale(0.8,1)" fill="#b0b0b0" font-size="24" font-family="Liberation Serif" text-anchor="middle">U</text>
<text transform="translate(1429,1305) scale(0.8,1)" fill="#b0b0b0" font-size="24" font-family="Liberation Serif" text-anchor="middle">D</text>
<rect x="1452" y="1284" width="102" height="28" fill="#0a0a0a"/>
<rect x="1554" y="1284" width="2" height="28" fill="#262626"/>
<text transform="translate(1473,1305) scale(0.8,1)" fill="#b0b0b0" font-size="24" font-family="Liberation Serif" text-anchor="middle">M</text>
<text transform="translate(1485,1305) scale(0.8,1)" fill="#b0b0b0" font-size="24" font-family="Liberation Serif" text-anchor="middle">T</text>
<text transform="translate(1497,1305) scale(0.8,1)" fill="#b0b0b0" font-size="24" font-family="Liberation Serif" text-anchor="middle">M</text>
<text transform="translate(1509,1305) scale(0.8,1)" fill="#b0b0b0" font-size="24" font-family="Liberation Serif" text-anchor="middle">_</text>
<text transform="translate(1521,1305) scale(0.8,1)" fill="#b0b0b0" font-size="24" font-family="Liberation Serif" text-anchor="middle">U</text>
<text transform="translate(1533,1305) scale(0.8,1)" fill="#b0b0b0" font-size="24" font-family="Liberation Serif" text-anchor="middle">D</text>
<rect x="1556" y="1284" width="150" height="28" fill="#0a0a0a"/>
<rect x="1706" y="1284" width="2" height="28" fill="#262626"/>
<text transform="translate(1577,1305) scale(0.8,1)" fill="#b0b0b0" font-size="24" font-family="Liberation Serif" text-anchor="middle">O</text>
<text transform="translate(1589,1305) scale(0.8,1)" fill="#b0b0b0" font-size="24" font-family="Liberation Serif" text-anchor="middle">U</text>
<text transform="translate(1601,1305) scale(0.8,1)" fill="#b0b0b0" font-size="24" font-family="Liberation Serif" text-anchor="middle">T</text>
<text transform="translate(1613,1305) scale(0.8,1)" fill="#b0b0b0" font-size="24" font-family="Liberation Serif" text-anchor="middle">S</text>
<text transform="translate(1625,1305) scale(0.8,1)" fill="#b0b0b0" font-size="24" font-family="Liberation Serif" text-anchor="middle">I</text>
<text transform="translate(1637,1305) scale(0.8,1)" fill="#b0b0b0" font-size="24" font-family="Liberation Serif" text-anchor="middle">D</text>
<text transform="translate(1649,1305) scale(0.8,1)" fill="#b0b0b0" font-size="24" font-family="Liberation Serif" text-anchor="middle">E</text>
<text transform="translate(1661,1305) scale(0.8,1)" fill="#b0b0b0" font-size="24" font-family="Liberation Serif" text-anchor="middle">_</text>
<text transform="translate(1673,1305) scale(0.8,1)" fill="#b0b0b0" font-size="24" font-family="Liberation Serif" text-anchor="middle">U</text>
<text transform="translate(1685,1305) scale(0.8,1)" fill="#b0b0b0" font-size="24" font-family="Liberation Serif" text-anchor="middle">D</text>
<rect x="1708" y="1284" width="54" height="28" fill="#0a0a0a"/>
<text transform="translate(1729,1305) scale(0.8,1)" fill="#b0b0b0" font-size="24" font-family="Liberation Serif" text-anchor="middle">></text>
<text transform="translate(1741,1305) scale(0.8,1)" fill="#b0b0b0" font-size="24" font-family="Liberation Serif" text-anchor="middle">></text>
<rect x="1540" y="1284" width="222" height="6" fill="#1a1a1a"/>
<rect x="1508" y="1276" width="280" height="1" fill="#1e1e1e"/>
<rect x="1555" y="1288" width="8" height="2" fill="#b8b8b8"/>
<rect x="1572" y="1288" width="6" height="2" fill="#b8b8b8"/>
<rect x="1588" y="1288" width="10" height="2" fill="#b8b8b8"/>
<rect x="1605" y="1288" width="7" height="2" fill="#b8b8b8"/>
<rect x="1663" y="1288" width="9" height="2" fill="#b8b8b8"/>
<rect x="1677" y="1288" width="9" height="2" fill="#b8b8b8"/>
<rect x="1697" y="1288" width="9" height="2" fill="#b8b8b8"/>
<rect x="1711" y="1288" width="9" height="2" fill="#b8b8b8"/>
<rect x="1770" y="1288" width="10" height="2" fill="#b8b8b8"/>
<text x="1921" y="1288.6" fill="#dfe3ee" font-size="31" textLength="99" lengthAdjust="spacing" stroke="#dfe3ee" stroke-width="0.5">FX678</text>
</svg></body></html>
